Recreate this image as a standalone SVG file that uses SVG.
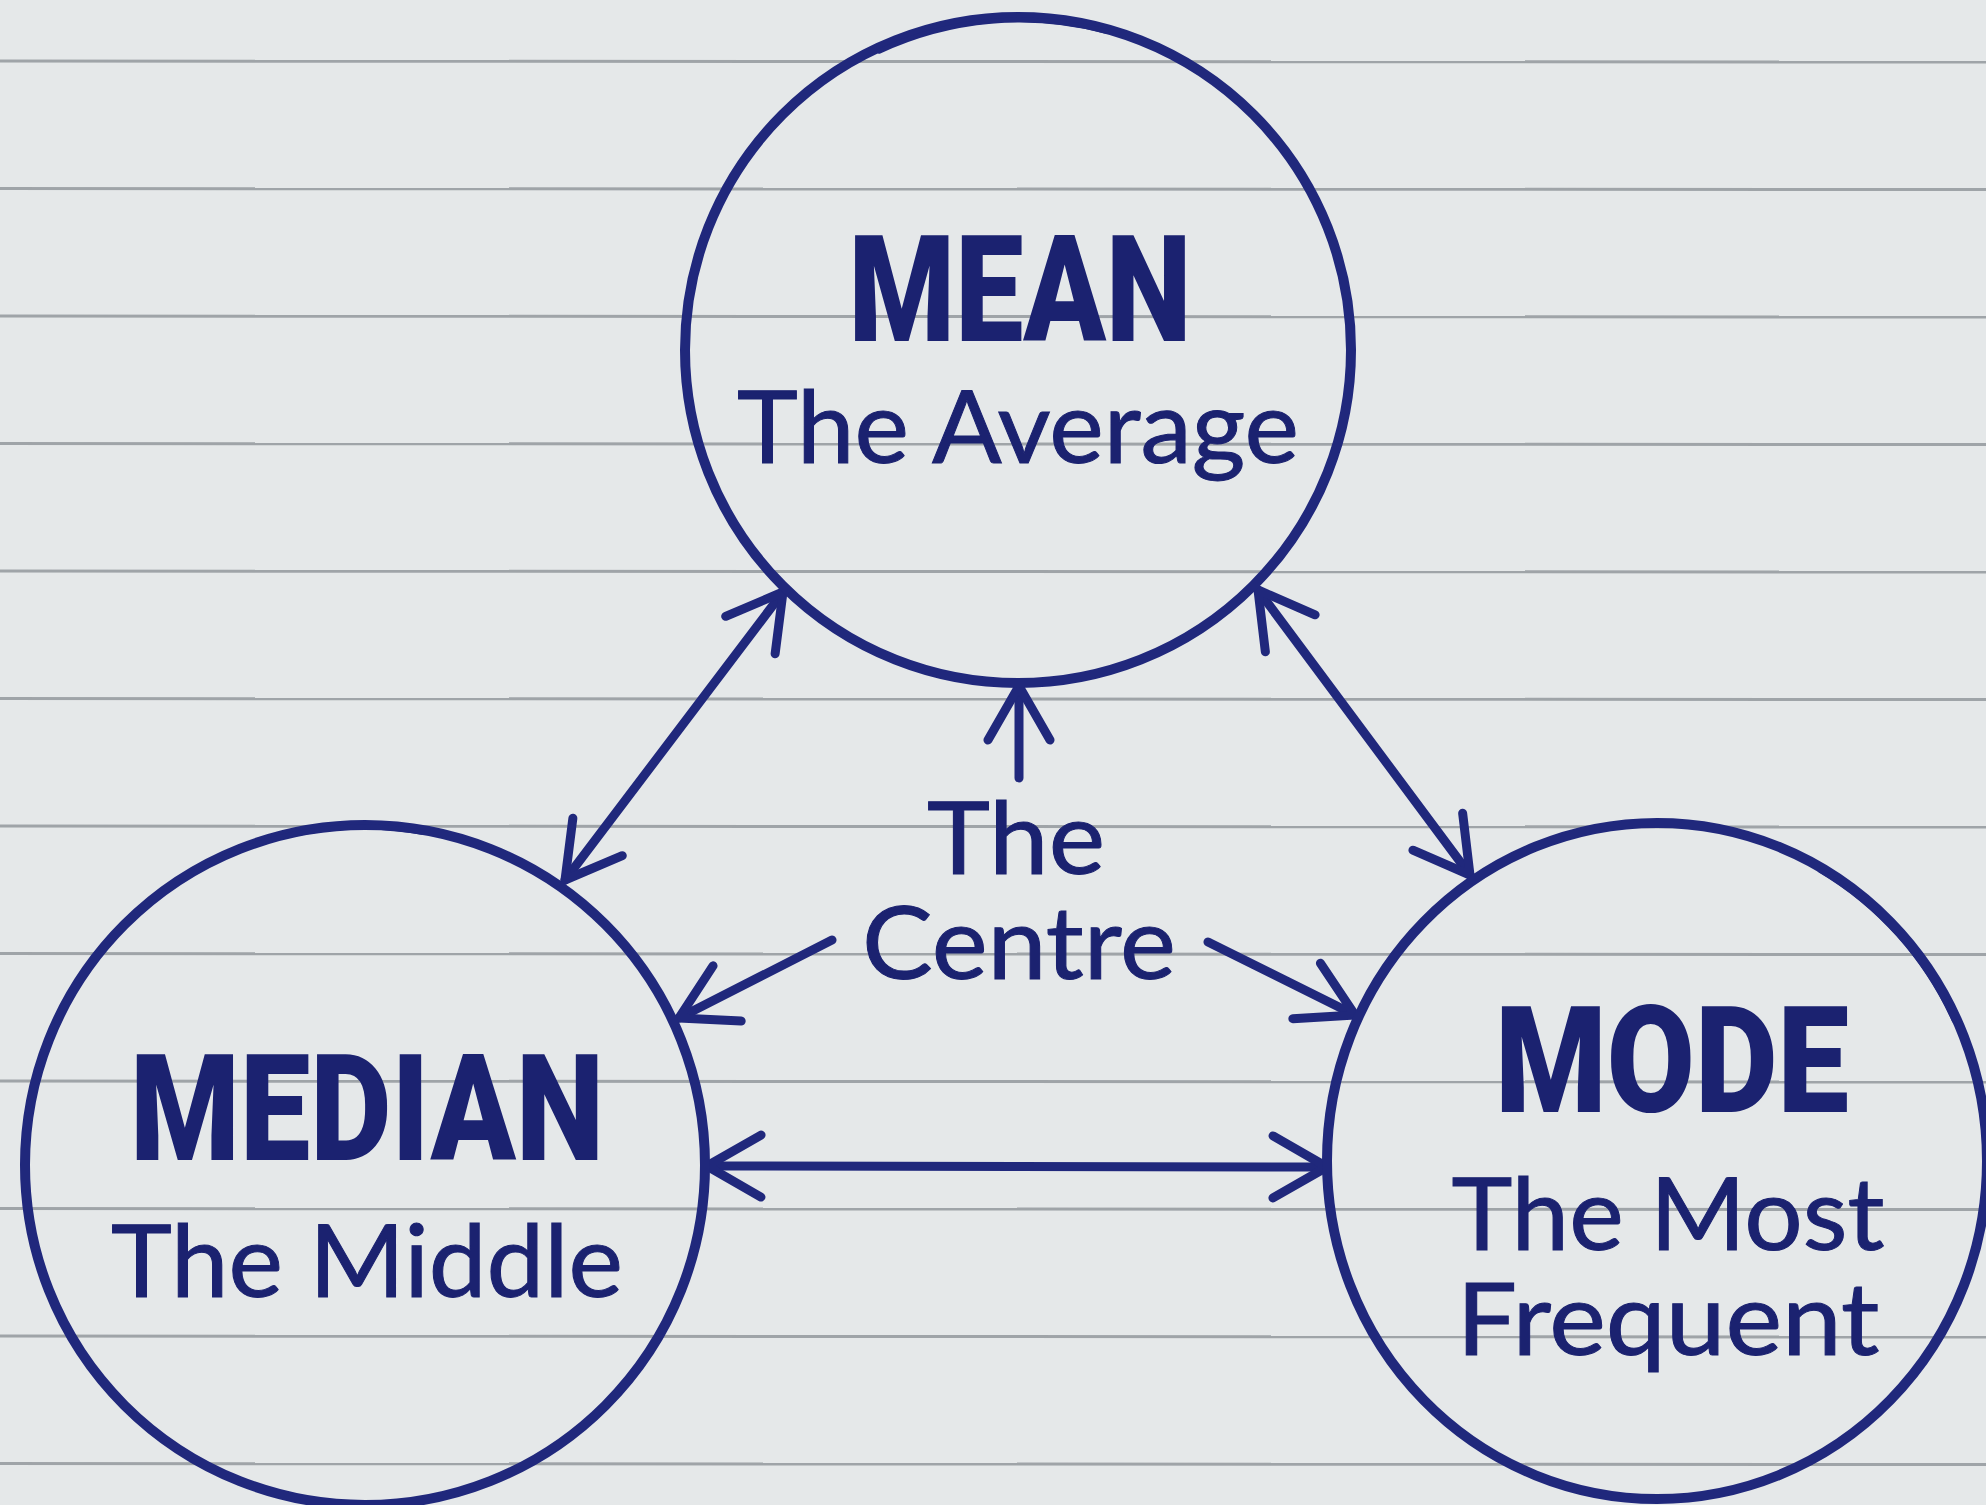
<svg xmlns="http://www.w3.org/2000/svg" width="1986" height="1505" viewBox="0 0 1986 1505">
  <defs>
    <style>
      .paper { fill: #e5e8e9; }
      .rule { stroke: #9fa4a8; stroke-width: 3; fill: none; }
      .ring { fill: none; stroke: #20287c; stroke-width: 10; }
      .ring-over { fill: none; stroke: #20287c; stroke-width: 5; stroke-linecap: round; }
      .link { fill: none; stroke: #20287c; stroke-width: 9; stroke-linecap: round; }
      .title { font-family: Roboto, "Liberation Sans", sans-serif; font-weight: 900; font-size: 149px; fill: #1b2270; text-anchor: middle; }
      .sub { font-family: Lato, "Open Sans", "Noto Sans", sans-serif; font-weight: 400; font-size: 101px; fill: #1b2270; stroke: #1b2270; stroke-width: 1; text-anchor: middle; }
    </style>
    <marker id="head" markerUnits="userSpaceOnUse" viewBox="-70 -45 80 90" refX="0" refY="0" markerWidth="80" markerHeight="90" orient="auto-start-reverse" overflow="visible">
      <path d="M -54 -31 L 0 0 L -54 31" fill="none" stroke="#20287c" stroke-width="9" stroke-linecap="round" stroke-linejoin="round"/>
    </marker>
  </defs>

  <!-- ruled notebook paper -->
  <rect class="paper" x="0" y="0" width="1986" height="1505"/>
  <g id="rules">
    <line class="rule" x1="0" y1="61" x2="1986" y2="62"/>
    <line class="rule" x1="0" y1="188.5" x2="1986" y2="189.5"/>
    <line class="rule" x1="0" y1="316" x2="1986" y2="317"/>
    <line class="rule" x1="0" y1="443.5" x2="1986" y2="444.5"/>
    <line class="rule" x1="0" y1="571" x2="1986" y2="572"/>
    <line class="rule" x1="0" y1="698.5" x2="1986" y2="699.5"/>
    <line class="rule" x1="0" y1="826" x2="1986" y2="827"/>
    <line class="rule" x1="0" y1="953.5" x2="1986" y2="954.5"/>
    <line class="rule" x1="0" y1="1081" x2="1986" y2="1082"/>
    <line class="rule" x1="0" y1="1208.5" x2="1986" y2="1209.5"/>
    <line class="rule" x1="0" y1="1336" x2="1986" y2="1337"/>
    <line class="rule" x1="0" y1="1463.5" x2="1986" y2="1464.5"/>
  </g>

  <!-- connectors -->
  <g id="connectors">
    <line class="link" x1="565" y1="880" x2="783" y2="592" marker-start="url(#head)" marker-end="url(#head)"/>
    <line class="link" x1="1258" y1="590" x2="1470" y2="875" marker-start="url(#head)" marker-end="url(#head)"/>
    <line class="link" x1="707" y1="1166" x2="1327" y2="1167" marker-start="url(#head)" marker-end="url(#head)"/>
    <line class="link" x1="1019" y1="778" x2="1019" y2="686" marker-end="url(#head)"/>
    <line class="link" x1="832" y1="940" x2="679" y2="1018" marker-end="url(#head)"/>
    <line class="link" x1="1208" y1="942" x2="1355" y2="1015" marker-end="url(#head)"/>
  </g>

  <!-- MEAN -->
  <g id="mean">
    <circle class="ring" cx="1018" cy="350" r="333"/>
    <path class="ring-over" d="M 879.3 51.2 A 333 333 0 0 1 1106.2 31.3"/>
    <text class="title" x="1020" y="341" textLength="343" lengthAdjust="spacingAndGlyphs">MEAN</text>
    <text class="sub" x="1018" y="463" textLength="562" lengthAdjust="spacingAndGlyphs">The Average</text>
  </g>

  <!-- MEDIAN -->
  <g id="median">
    <circle class="ring" cx="365" cy="1165" r="340"/>
    <path class="ring-over" d="M 193 872.6 A 340 340 0 0 1 422 832.2"/>
    <text class="title" x="367" y="1160" textLength="474" lengthAdjust="spacingAndGlyphs">MEDIAN</text>
    <text class="sub" x="367" y="1297" textLength="512" lengthAdjust="spacingAndGlyphs">The Middle</text>
  </g>

  <!-- MODE -->
  <g id="mode">
    <ellipse class="ring" cx="1657" cy="1161" rx="330" ry="338"/>
    <path class="ring-over" d="M 1820 870.3 A 330 338 0 0 1 1954.1 1020.2"/>
    <text class="title" x="1672" y="1112" textLength="354" lengthAdjust="spacingAndGlyphs">MODE</text>
    <text class="sub" x="1668" y="1250" textLength="433" lengthAdjust="spacingAndGlyphs">The Most</text>
    <text class="sub" x="1668" y="1355" textLength="423" lengthAdjust="spacingAndGlyphs">Frequent</text>
  </g>

  <!-- shared centre label -->
  <g id="centre">
    <text class="sub" x="1016" y="874" textLength="178" lengthAdjust="spacingAndGlyphs">The</text>
    <text class="sub" x="1019" y="979" textLength="314" lengthAdjust="spacingAndGlyphs">Centre</text>
  </g>
</svg>
